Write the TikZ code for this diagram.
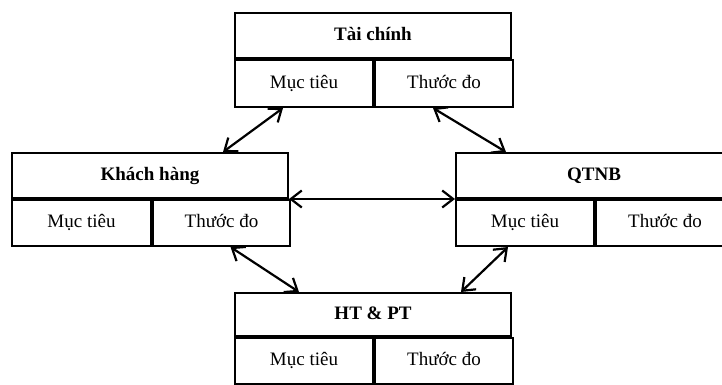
\documentclass[tikz,border=0pt]{standalone}
\usepackage{fontspec}
\setmainfont{Liberation Serif}
\usetikzlibrary{arrows.meta}
\begin{document}
\begin{tikzpicture}[x=1pt,y=-1pt,
  cell/.style={draw,line width=2pt,minimum height=46pt,inner sep=0pt,text height=13pt,text depth=4pt,anchor=north west,font=\fontsize{19}{21}\selectfont},
  head/.style={draw,line width=2pt,minimum height=45pt,inner sep=0pt,text height=13pt,text depth=4pt,anchor=north west,font=\fontsize{19}{21}\selectfont\bfseries},
  barb/.tip={Straight Barb[length=11pt,width=17pt,line width=2.2pt]},
  link/.style={line width=2.2pt,barb-barb}]
\useasboundingbox (0,0) rectangle (722,384);
% Tài chính
\node[head,minimum width=276pt] (tc) at (234,12) {Tài chính};
\node[cell,minimum width=138pt,minimum height=47pt] (tc1) at (tc.south west) {Mục tiêu};
\node[cell,minimum width=138pt,minimum height=47pt] (tc2) at (tc1.north east) {Thước đo};
% Khách hàng
\node[head,minimum width=276pt] (kh) at (11,152) {Khách hàng};
\node[cell,minimum width=139pt] (kh1) at (kh.south west) {Mục tiêu};
\node[cell,minimum width=137pt] (kh2) at (kh1.north east) {Thước đo};
% QTNB
\node[head,minimum width=276pt] (qt) at (455,152) {QTNB};
\node[cell,minimum width=138pt] (qt1) at (qt.south west) {Mục tiêu};
\node[cell,minimum width=138pt] (qt2) at (qt1.north east) {Thước đo};
% HT & PT
\node[head,minimum width=276pt,minimum height=43pt] (ht) at (234,292) {HT \& PT};
\node[cell,minimum width=138pt] (ht1) at (ht.south west) {Mục tiêu};
\node[cell,minimum width=138pt] (ht2) at (ht1.north east) {Thước đo};
% connectors
\draw[link] ([xshift=-21pt]tc1.south) -- ([xshift=73pt]kh.north);
\draw[link] ([xshift=-11pt]tc2.south) -- ([xshift=-88pt]qt.north);
\draw[link] (kh.south east) -- (qt.south west);
\draw[link] ([xshift=9pt]kh2.south) -- ([xshift=-74pt]ht.north);
\draw[link] ([xshift=-17pt]qt1.south) -- ([xshift=88pt]ht.north);
\end{tikzpicture}
\end{document}
